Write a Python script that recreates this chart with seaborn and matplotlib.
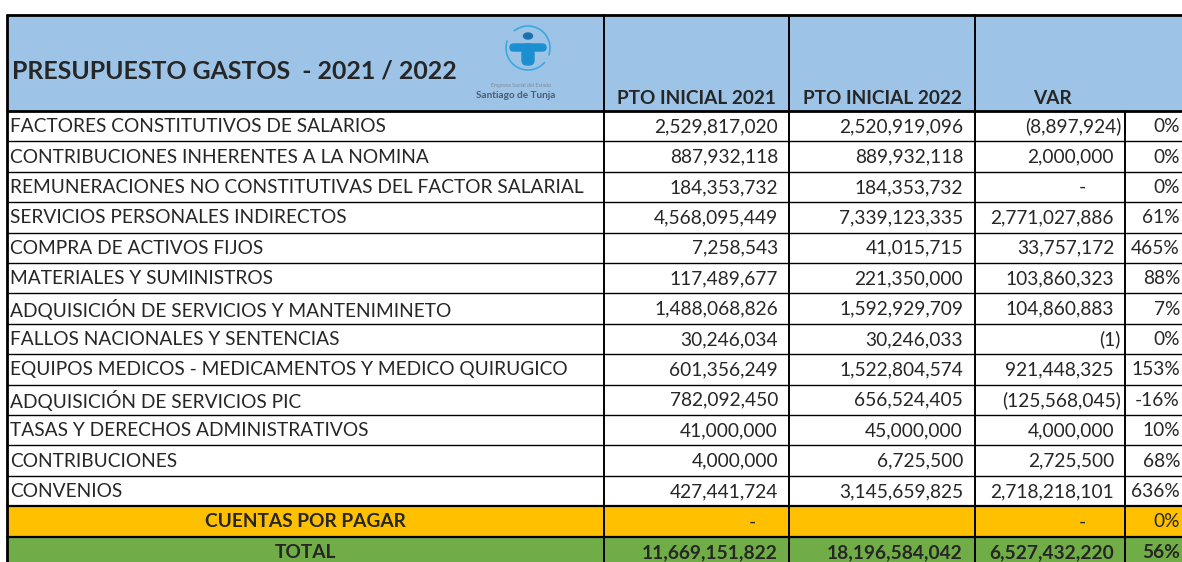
import numpy as np
import matplotlib
matplotlib.use("Agg")
import matplotlib.pyplot as plt
from matplotlib.colors import ListedColormap
from matplotlib.patches import Rectangle, Arc, FancyBboxPatch, Ellipse
import seaborn as sns

conceptos = [
    "FACTORES CONSTITUTIVOS DE SALARIOS",
    "CONTRIBUCIONES INHERENTES A LA NOMINA",
    "REMUNERACIONES NO CONSTITUTIVAS DEL FACTOR SALARIAL",
    "SERVICIOS PERSONALES INDIRECTOS",
    "COMPRA DE ACTIVOS FIJOS",
    "MATERIALES Y SUMINISTROS",
    "ADQUISICIÓN DE SERVICIOS Y MANTENIMINETO",
    "FALLOS NACIONALES Y SENTENCIAS",
    "EQUIPOS MEDICOS - MEDICAMENTOS Y MEDICO QUIRUGICO",
    "ADQUISICIÓN DE SERVICIOS PIC",
    "TASAS Y DERECHOS ADMINISTRATIVOS",
    "CONTRIBUCIONES",
    "CONVENIOS",
    "CUENTAS POR PAGAR",
    "TOTAL",
]
pto_2021 = [2529817020, 887932118, 184353732, 4568095449, 7258543, 117489677,
            1488068826, 30246034, 601356249, 782092450, 41000000, 4000000,
            427441724, 0, 11669151822]
pto_2022 = [2520919096, 889932118, 184353732, 7339123335, 41015715, 221350000,
            1592929709, 30246033, 1522804574, 656524405, 45000000, 6725500,
            3145659825, None, 18196584042]
var = [-8897924, 2000000, 0, 2771027886, 33757172, 103860323,
       104860883, -1, 921448325, -125568045, 4000000, 2725500,
       2718218101, 0, 6527432220]
var_pct = [0, 0, 0, 61, 465, 88, 7, 0, 153, -16, 10, 68, 636, 0, 56]
row_kind = [0] * 13 + [1, 2]  # 0 normal, 1 cuentas por pagar, 2 total

titulo = "PRESUPUESTO GASTOS  - 2021 / 2022"
encabezados = ["PTO INICIAL 2021", "PTO INICIAL 2022", "VAR"]

W, H = 1182, 562
FONT = ["Lato", "DejaVu Sans"]
HEADER_BLUE = "#9DC3E6"
LOGO_BLUE = "#1C8FD0"
ROW_COLORS = ["#FFFFFF", "#FFC000", "#70AD47"]

# layout in pixels
X_LEFT, X_C1, X_C2, X_C3, X_C4, X_RIGHT = 7, 604, 789, 975, 1125, 1184
Y_TOP, Y_HEAD = 15, 111
ROW_H = 30.4


def fmt_acct(v):
    # Excel accounting style
    if v is None:
        return ""
    if v == 0:
        return "-"
    if v < 0:
        return "({:,})".format(-v)
    return "{:,}".format(v)


def draw_backgrounds(fig):
    n = len(conceptos)
    body_h = n * ROW_H
    ax_bg = fig.add_axes([X_LEFT / W, (H - Y_HEAD - body_h) / H,
                          (X_RIGHT - X_LEFT) / W, body_h / H])
    grid = np.array(row_kind).reshape(-1, 1)
    sns.heatmap(grid, cmap=ListedColormap(ROW_COLORS), vmin=-0.5, vmax=2.5,
                cbar=False, ax=ax_bg, xticklabels=False, yticklabels=False)
    ax_bg.axis("off")
    return ax_bg


def draw_logo(ax):
    cx, cy = 528, 48
    # broken ring (y axis inverted, so angles run clockwise on screen)
    ax.add_patch(Arc((cx, cy), 44, 44, theta1=-130, theta2=20,
                     color="#3AA9DD", lw=1.2, zorder=3))
    ax.add_patch(Arc((cx, cy), 44, 44, theta1=40, theta2=200,
                     color="#3AA9DD", lw=1.2, zorder=3))
    # head
    ax.add_patch(Ellipse((cx, cy - 12), 9, 6, color="#1A6FAE", zorder=3))
    # cross
    ax.add_patch(FancyBboxPatch((cx - 18, cy - 4), 36, 7,
                                boxstyle="round,pad=0,rounding_size=3.5",
                                color=LOGO_BLUE, zorder=3))
    ax.add_patch(FancyBboxPatch((cx - 6, cy - 4), 12, 21,
                                boxstyle="round,pad=0,rounding_size=5",
                                color=LOGO_BLUE, zorder=3))
    ax.text(521, 85, "Empresa Social del Estado", fontsize=3.8,
            color="#7F8C99", ha="center", va="center", family=FONT, zorder=4)
    ax.text(516, 96, "Santiago de Tunja", fontsize=7.2, fontweight="bold",
            color="#4A5B70", ha="center", va="center", family=FONT, zorder=4)


def draw_table(fig):
    ax = fig.add_axes([0, 0, 1, 1], zorder=2)
    ax.patch.set_alpha(0)
    ax.set_xlim(0, W)
    ax.set_ylim(H, 0)
    ax.axis("off")

    # header
    ax.add_patch(Rectangle((X_LEFT, Y_TOP), X_RIGHT - X_LEFT, Y_HEAD - Y_TOP,
                           color=HEADER_BLUE, zorder=1))
    ax.text(12, 71, titulo, fontsize=17.9, fontweight="bold", ha="left",
            va="center", family=FONT, zorder=5)
    draw_logo(ax)
    y_h = 98
    fh = 13.7
    ax.text((X_C1 + X_C2) / 2, y_h, encabezados[0], fontsize=fh, fontweight="bold",
            ha="center", va="center", family=FONT)
    ax.text((X_C2 + X_C3) / 2, y_h, encabezados[1], fontsize=fh, fontweight="bold",
            ha="center", va="center", family=FONT)
    ax.text(1052, y_h, encabezados[2], fontsize=fh, fontweight="bold",
            ha="center", va="center", family=FONT)

    n = len(conceptos)
    y_bot = Y_HEAD + n * ROW_H
    fs = 13.8
    for i, name in enumerate(conceptos):
        y = Y_HEAD + (i + 0.5) * ROW_H + 0.5
        fw = "bold" if row_kind[i] == 2 else "normal"
        if row_kind[i] > 0:
            ax.text((X_LEFT + X_C1) / 2, y, name, fontsize=fs, fontweight="bold",
                    ha="center", va="center", family=FONT)
        else:
            ax.text(10, y, name, fontsize=fs, ha="left", va="center", family=FONT)

        for val, xr, xd in [(pto_2021[i], 778, 752), (pto_2022[i], 963, 937)]:
            s = fmt_acct(val)
            if s == "-":
                ax.text(xd, y, s, fontsize=fs, ha="center", va="center", family=FONT)
            elif s:
                ax.text(xr, y, s, fontsize=fs, fontweight=fw, ha="right",
                        va="center", family=FONT)
        s = fmt_acct(var[i])
        if s == "-":
            ax.text(1082, y, s, fontsize=fs, ha="center", va="center", family=FONT)
        elif var[i] < 0:
            ax.text(1121, y, s, fontsize=fs, ha="right", va="center", family=FONT)
        else:
            ax.text(1114, y, s, fontsize=fs, fontweight=fw, ha="right",
                    va="center", family=FONT)
        ax.text(1180, y, "{}%".format(var_pct[i]), fontsize=fs, fontweight=fw,
                ha="right", va="center", family=FONT)

    # grid lines
    for k in range(1, n):
        yy = Y_HEAD + k * ROW_H
        lw = 1.6 if k >= n - 2 else 1.0
        ax.plot([X_LEFT, X_RIGHT], [yy, yy], color="black", lw=lw, zorder=6)
    ax.plot([X_LEFT, X_RIGHT], [Y_TOP, Y_TOP], color="black", lw=2, zorder=6)
    ax.plot([X_LEFT, X_RIGHT], [Y_HEAD, Y_HEAD], color="black", lw=2, zorder=6)
    ax.plot([X_LEFT, X_LEFT], [Y_TOP, y_bot], color="black", lw=2, zorder=6)
    for xx in [X_C1, X_C2, X_C3]:
        ax.plot([xx, xx], [Y_TOP, y_bot], color="black", lw=1.4, zorder=6)
    ax.plot([X_C4, X_C4], [Y_HEAD, y_bot], color="black", lw=1.4, zorder=6)
    return ax


def main():
    sns.set_theme(style="white")
    plt.rcParams["font.family"] = FONT
    fig = plt.figure(figsize=(W / 100, H / 100), dpi=100)
    fig.patch.set_facecolor("white")
    draw_backgrounds(fig)
    draw_table(fig)
    fig.savefig("out.png", dpi=100)


if __name__ == "__main__":
    main()
